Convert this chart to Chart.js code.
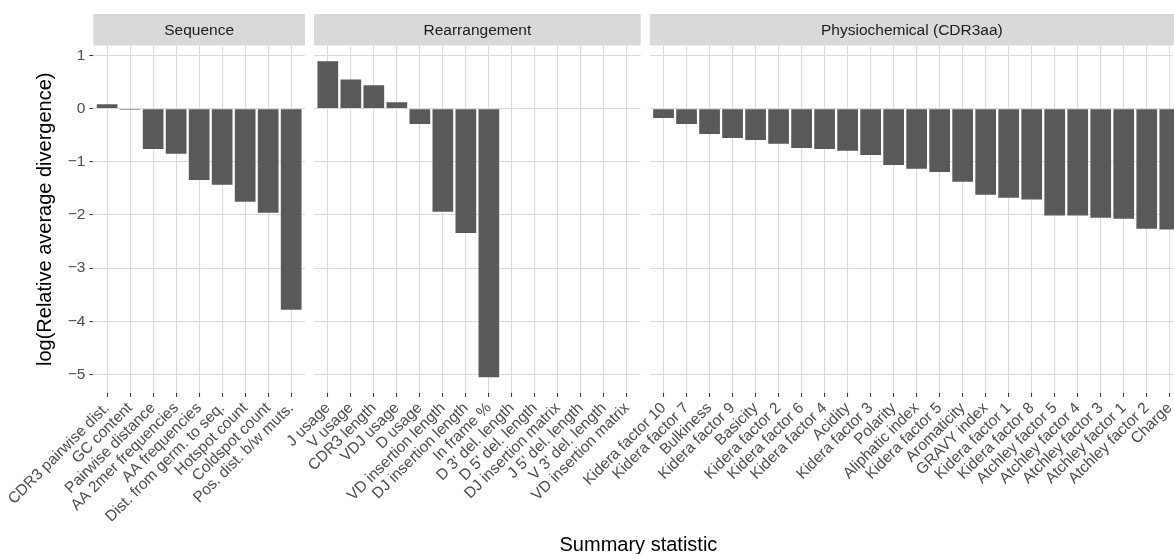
<!DOCTYPE html>
<html><head><meta charset="utf-8">
<script src="https://cdn.jsdelivr.net/npm/chart.js@4.4.1/dist/chart.umd.min.js"></script>
<style>
html,body{margin:0;padding:0;background:#fff;overflow:hidden;width:1174px;height:554px;}
#wrap{position:relative;width:1174px;height:554px;overflow:hidden;background:#fff;}
canvas{position:absolute;left:0;top:0;}
</style></head><body>
<div id="wrap">
<canvas id="c1" width="1200" height="554"></canvas>
<canvas id="c2" width="1200" height="554"></canvas>
<canvas id="c3" width="1200" height="554"></canvas>
</div>
<script>
// ---- data ----
const facetNames = ["Sequence", "Rearrangement", "Physiochemical (CDR3aa)"];
const sequenceLabels = ["CDR3 pairwise dist.", "GC content", "Pairwise distance", "AA 2mer frequencies", "AA frequencies", "Dist. from germ. to seq.", "Hotspot count", "Coldspot count", "Pos. dist. b/w muts."];
const sequenceValues = [0.08, -0.02, -0.76, -0.85, -1.34, -1.43, -1.75, -1.96, -3.78];
const rearrangementLabels = ["J usage", "V usage", "CDR3 length", "VDJ usage", "D usage", "VD insertion length", "DJ insertion length", "In frame %", "D 3' del. length", "D 5' del. length", "DJ insertion matrix", "J 5' del. length", "V 3' del. length", "VD insertion matrix"];
const rearrangementValues = [0.89, 0.55, 0.44, 0.12, -0.29, -1.94, -2.34, -5.05, null, null, null, null, null, null];
const physioLabels = ["Kidera factor 10", "Kidera factor 7", "Bulkiness", "Kidera factor 9", "Basicity", "Kidera factor 2", "Kidera factor 6", "Kidera factor 4", "Acidity", "Kidera factor 3", "Polarity", "Aliphatic index", "Kidera factor 5", "Aromaticity", "GRAVY index", "Kidera factor 1", "Kidera factor 8", "Atchley factor 5", "Atchley factor 4", "Atchley factor 3", "Atchley factor 1", "Atchley factor 2", "Charge"];
const physioValues = [-0.175, -0.29, -0.475, -0.55, -0.59, -0.66, -0.74, -0.76, -0.79, -0.87, -1.06, -1.13, -1.19, -1.375, -1.62, -1.675, -1.71, -2.01, -2.01, -2.05, -2.07, -2.26, -2.275];
const yTitle = "log(Relative average divergence)";
const xTitle = "Summary statistic";

// ---- layout / style ----
const VIEW_W = 1174, CW = 1200, H = 554;
const STRIP_TOP = 14, PANEL_TOP = 45.5, PANEL_BOTTOM = 393;
const UNIT = 23.01, GAP = 9, FIRST_LEFT = 93.3, EXPAND = 0.6;
const FAMILY = "'Liberation Sans', Arial, Helvetica, sans-serif";
const BAR = '#595959', GRID = '#DADADA', TICKMARK = '#333333', TICKTXT = '#4D4D4D';

const allVals = [].concat(sequenceValues, rearrangementValues, physioValues).filter(v => v !== null);
const dMin = Math.min(...allVals), dMax = Math.max(...allVals);
const yMin = dMin - 0.05 * (dMax - dMin), yMax = dMax + 0.05 * (dMax - dMin);

const fmt = v => v < 0 ? '\u2212' + Math.abs(v) : String(v);

const stripPlugin = {
  id: 'strip',
  beforeDraw(chart, args, opts) {
    const {ctx, chartArea: a} = chart;
    ctx.save();
    ctx.fillStyle = '#D9D9D9';
    ctx.fillRect(a.left, STRIP_TOP, a.right - a.left, a.top - STRIP_TOP);
    ctx.fillStyle = '#1A1A1A';
    ctx.font = '15.5px ' + FAMILY;
    ctx.textAlign = 'center';
    ctx.textBaseline = 'middle';
    const cx = (a.left + Math.min(a.right, VIEW_W)) / 2;
    ctx.fillText(opts.text, cx, (STRIP_TOP + a.top) / 2 + 0.5);
    ctx.restore();
  }
};

const titlePlugin = {
  id: 'titles',
  afterDraw(chart, args, opts) {
    if (!opts.show) return;
    const ctx = chart.ctx;
    ctx.save();
    ctx.fillStyle = '#000000';
    ctx.font = '20px ' + FAMILY;
    ctx.textAlign = 'center';
    ctx.textBaseline = 'alphabetic';
    ctx.fillText(xTitle, (FIRST_LEFT + opts.lastRight) / 2, 551);
    ctx.translate(51, (PANEL_TOP + PANEL_BOTTOM) / 2);
    ctx.rotate(-Math.PI / 2);
    ctx.fillText(yTitle, 0, 0);
    ctx.restore();
  }
};

function panelWidth(n) { return (n - 1 + 2 * EXPAND) * UNIT; }

function makePanel(id, labels, values, left, name, showY, lastRight) {
  const right = left + panelWidth(labels.length);
  new Chart(document.getElementById(id), {
    type: 'bar',
    data: {
      datasets: [{
        data: labels.map((l, i) => ({x: i, y: values[i]})),
        backgroundColor: BAR,
        borderWidth: 0,
        barPercentage: 0.9,
        categoryPercentage: 1.0
      }]
    },
    options: {
      responsive: false,
      animation: false,
      devicePixelRatio: 1,
      layout: {padding: {left: showY ? 0 : left, right: CW - right, top: PANEL_TOP, bottom: 0}},
      plugins: {
        legend: {display: false},
        tooltip: {enabled: false},
        strip: {text: name},
        titles: {show: showY, lastRight: lastRight}
      },
      scales: {
        x: {
          type: 'linear',
          min: -EXPAND,
          max: labels.length - 1 + EXPAND,
          offset: false,
          border: {display: false},
          grid: {offset: false, color: GRID, lineWidth: 1.1, drawTicks: true, tickLength: 4, tickColor: TICKMARK, tickWidth: 1},
          ticks: {
            stepSize: 1, includeBounds: false, autoSkip: false, maxTicksLimit: 1000,
            minRotation: 45, maxRotation: 45, padding: 2,
            color: TICKTXT, font: {family: FAMILY, size: 15.5},
            callback: v => (Number.isInteger(v) && labels[v] !== undefined) ? labels[v] : ''
          },
          afterFit: s => { s.height = H - PANEL_BOTTOM; }
        },
        y: {
          min: yMin, max: yMax,
          border: {display: false},
          grid: {color: GRID, lineWidth: 1.1, drawTicks: showY, tickLength: 4, tickColor: TICKMARK, tickWidth: 1},
          ticks: {
            display: showY, stepSize: 1, includeBounds: false, padding: 4,
            color: TICKTXT, font: {family: FAMILY, size: 15.5},
            callback: v => fmt(v)
          },
          afterFit: s => { s.width = showY ? left : 0; }
        }
      }
    },
    plugins: [stripPlugin, titlePlugin]
  });
  return right;
}

const r1 = FIRST_LEFT + panelWidth(sequenceLabels.length);
const l2 = r1 + GAP;
const r2 = l2 + panelWidth(rearrangementLabels.length);
const l3 = r2 + GAP;
const r3 = l3 + panelWidth(physioLabels.length);
makePanel('c1', sequenceLabels, sequenceValues, FIRST_LEFT, facetNames[0], true, r3);
makePanel('c2', rearrangementLabels, rearrangementValues, l2, facetNames[1], false, r3);
makePanel('c3', physioLabels, physioValues, l3, facetNames[2], false, r3);
</script>
</body></html>
